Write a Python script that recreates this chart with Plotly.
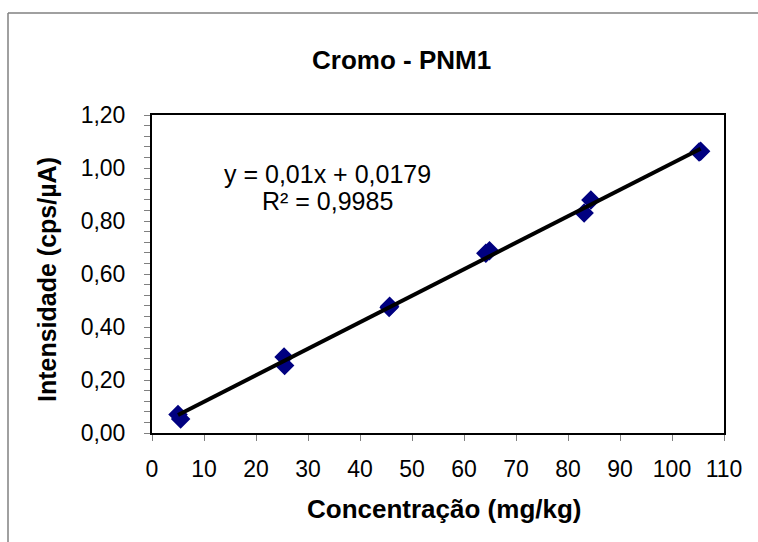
import plotly.graph_objects as go

# Calibration data: chromium concentration vs. measured intensity
conc = [5.0, 5.5, 25.4, 25.5, 45.6, 45.7, 64.2, 64.9, 83.1, 84.4, 105.2, 105.5]
intens = [0.070, 0.053, 0.287, 0.255, 0.474, 0.478, 0.678, 0.688, 0.830, 0.879, 1.060, 1.063]

# Linear fit coefficients as reported in the equation label
slope = 0.01
intercept = 0.0179
r2 = 0.9985

x_ticks = list(range(0, 111, 10))
y_ticks = [0.0, 0.2, 0.4, 0.6, 0.8, 1.0, 1.2]
y_tick_text = ["0,00", "0,20", "0,40", "0,60", "0,80", "1,00", "1,20"]

FONT = "Liberation Sans, Arial, sans-serif"

W, H = 758, 542
L, R, T, B = 152, 34, 115, 109
PW, PH = W - L - R, H - T - B


def px(xp):
    return (xp - L) / PW


def py(yp):
    return (H - B - yp) / PH


fit_x = [min(conc), max(conc)]
fit_y = [slope * v + intercept for v in fit_x]

fig = go.Figure()
fig.add_trace(go.Scatter(
    x=conc, y=intens, mode="markers",
    marker=dict(symbol="diamond", size=15, color="#000080",
                line=dict(width=0)),
    showlegend=False, cliponaxis=False,
))
fig.add_trace(go.Scatter(
    x=fit_x, y=fit_y, mode="lines",
    line=dict(color="black", width=4),
    showlegend=False,
))

axis_common = dict(
    showgrid=False, zeroline=False, showline=True, linecolor="black",
    linewidth=2, mirror=True, ticks="outside", tickcolor="#808080",
    ticklen=6, tickwidth=1,
    tickfont=dict(family=FONT, size=23, color="black"),
)

fig.update_xaxes(range=[0, 110], tickvals=x_ticks, ticklabelstandoff=8,
                 **axis_common)
fig.update_yaxes(
    range=[0, 1.2], tickvals=y_ticks, ticktext=y_tick_text,
    ticklabelstandoff=14,
    minor=dict(dtick=0.04, ticks="outside", ticklen=6, tickcolor="#808080",
               tickwidth=1),
    **axis_common,
)

annotations = [
    dict(text="<b>Cromo - PNM1</b>", x=px(401), y=py(60), size=26),
    dict(text="<b>Concentração (mg/kg)</b>", x=px(445), y=py(509), size=26),
    dict(text="<b>Intensidade (cps/µA)</b>", x=px(47), y=py(280), size=25,
         textangle=-90),
    dict(text="y = 0,01x + 0,0179", x=px(327), y=py(174), size=25),
    dict(text="R² = 0,9985", x=px(327), y=py(201), size=25),
]
for a in annotations:
    size = a.pop("size")
    a.update(xref="paper", yref="paper", showarrow=False,
             xanchor="center", yanchor="middle",
             font=dict(family=FONT, size=size, color="black"))

# Chart-area frame: only its top and left edges fall inside the page
frame = dict(color="#808080", width=1.5)
shapes = [
    dict(type="line", xref="paper", yref="paper",
         x0=px(8), x1=px(W), y0=py(13), y1=py(13), line=frame),
    dict(type="line", xref="paper", yref="paper",
         x0=px(8), x1=px(8), y0=py(13), y1=py(H), line=frame),
]

fig.update_layout(
    width=W, height=H,
    margin=dict(l=L, r=R, t=T, b=B),
    paper_bgcolor="white", plot_bgcolor="white",
    annotations=annotations,
    shapes=shapes,
)

fig.write_html("out.html")
